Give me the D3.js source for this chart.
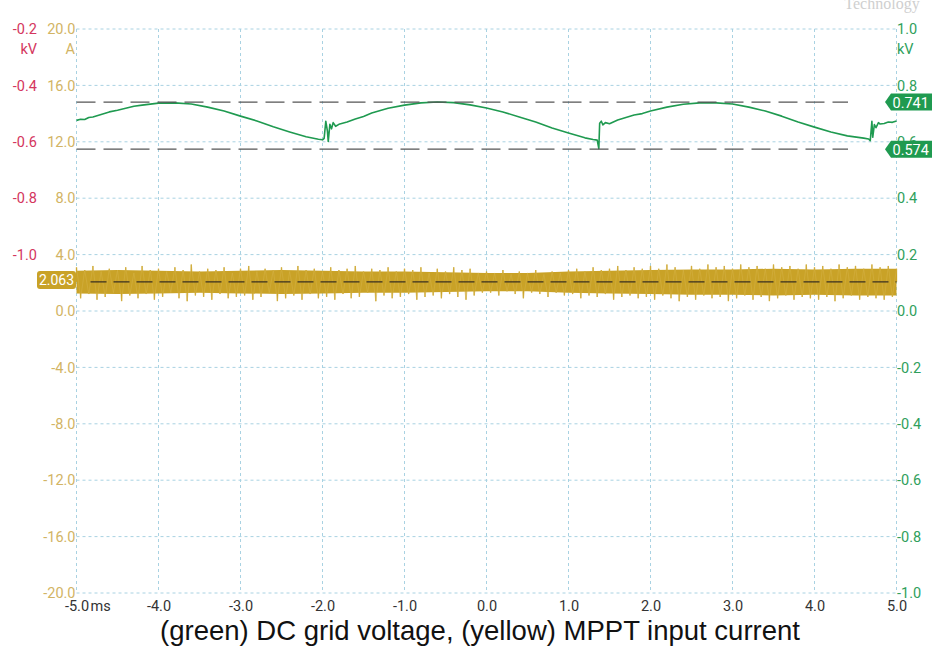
<!DOCTYPE html>
<html>
<head>
<meta charset="utf-8">
<script src="https://cdn.jsdelivr.net/npm/d3@7"></script>
<style>
  html, body { margin: 0; padding: 0; background: #fff; }
  svg { display: block; }
  text { font-family: Roboto, "Noto Sans", sans-serif; }
</style>
</head>
<body>
<svg id="chart" width="932" height="650"></svg>
<script>
'use strict';

// time axis (ms)
var timeTicks = [-5, -4, -3, -2, -1, 0, 1, 2, 3, 4, 5];
// current axis (A), left
var currentTicks = [-20, -16, -12, -8, -4, 0, 4, 8, 12, 16, 20];
// left kV labels (offset channel scale)
var leftKvTicks = [-0.2, -0.4, -0.6, -0.8, -1.0];
// right kV axis
var rightKvTicks = [-1.0, -0.8, -0.6, -0.4, -0.2, 0.0, 0.2, 0.4, 0.6, 0.8, 1.0];

// cursor values
var voltMax = 0.741, voltMin = 0.574, currentMean = 2.063;

// green trace: DC grid voltage (kV)
var greenT = [-5.0, -4.95, -4.9, -4.85, -4.8, -4.7, -4.6, -4.5, -4.4, -4.3, -4.2, -4.0, -3.8, -3.6, -3.4, -3.2, -3.0, -2.8, -2.6, -2.4, -2.2,
  -2.05, -2.0, -1.98, -1.96, -1.94, -1.93, -1.91, -1.89, -1.87, -1.84, -1.8, -1.7, -1.6, -1.5, -1.4, -1.2, -1.0,
  -0.8, -0.6, -0.4, -0.2, 0.0, 0.2, 0.4, 0.6, 0.8, 1.0, 1.2, 1.3, 1.35, 1.37, 1.38, 1.40, 1.42, 1.45,
  1.5, 1.6, 1.8, 1.9, 2.0, 2.2, 2.4, 2.6, 2.8, 3.0, 3.2, 3.4, 3.6, 3.8, 4.0, 4.2, 4.4, 4.6, 4.66, 4.68,
  4.70, 4.71, 4.73, 4.75, 4.78, 4.8, 4.85, 4.9, 4.95, 5.0];
var greenV = [0.676, 0.680, 0.679, 0.686, 0.688, 0.697, 0.706, 0.712, 0.719, 0.726, 0.730, 0.737, 0.738, 0.734, 0.723, 0.709, 0.691, 0.674, 0.653, 0.635, 0.618,
  0.609, 0.607, 0.612, 0.673, 0.638, 0.601, 0.662, 0.646, 0.668, 0.655, 0.662, 0.670, 0.681, 0.690, 0.702, 0.719, 0.730,
  0.738, 0.741, 0.739, 0.731, 0.720, 0.706, 0.688, 0.670, 0.649, 0.631, 0.614, 0.608, 0.606, 0.576, 0.666, 0.673, 0.660, 0.668,
  0.664, 0.677, 0.695, 0.700, 0.709, 0.723, 0.733, 0.738, 0.738, 0.734, 0.723, 0.709, 0.691, 0.670, 0.652, 0.635, 0.621, 0.613, 0.610, 0.604,
  0.673, 0.616, 0.661, 0.650, 0.668, 0.663, 0.665, 0.670, 0.669, 0.674];

// yellow trace: MPPT input current (A), core band every 0.5 ms
var coreT = [-5.0, -4.5, -4.0, -3.5, -3.0, -2.5, -2.0, -1.5, -1.0, -0.5, 0.0, 0.5, 1.0, 1.5, 2.0, 2.5, 3.0, 3.5, 4.0, 4.5, 5.0];
var coreHi = [2.85, 2.9, 2.85, 2.8, 2.85, 2.9, 2.85, 2.8, 2.8, 2.75, 2.7, 2.7, 2.8, 2.85, 2.9, 2.95, 2.95, 3.0, 2.95, 3.0, 3.0];
var coreLo = [1.25, 1.2, 1.25, 1.3, 1.25, 1.2, 1.25, 1.3, 1.3, 1.35, 1.4, 1.4, 1.3, 1.25, 1.2, 1.15, 1.15, 1.1, 1.15, 1.1, 1.1];

// yellow trace noise samples, every 0.05 ms from -5.0 to 5.0
var currentSamples = [
  3.1, 0.9, 2.9, 1.2, 3.2, 0.8, 2.8, 1.0, 3.0, 1.3, 2.9, 0.7, 3.1, 1.1, 2.7, 0.9, 3.2, 1.2, 2.9, 0.8,
  3.0, 1.0, 2.8, 1.3, 3.1, 0.9, 2.9, 0.7, 3.3, 1.1, 2.8, 1.0, 3.0, 0.8, 2.9, 1.2, 3.1, 0.9, 2.7, 1.0,
  3.0, 1.1, 3.2, 0.8, 2.8, 1.0, 3.0, 1.3, 2.9, 0.7, 3.1, 0.9, 2.8, 1.1, 3.2, 0.8, 2.9, 1.2, 3.0, 0.9,
  2.8, 1.0, 3.1, 0.8, 2.9, 1.2, 3.0, 0.9, 3.2, 1.0, 2.8, 1.3, 3.0, 0.7, 2.9, 1.1, 3.1, 0.9, 2.8, 1.0,
  3.0, 1.2, 2.9, 0.8, 3.1, 1.0, 2.7, 1.1, 3.0, 0.9, 2.8, 1.2, 3.1, 1.0, 2.9, 0.8, 3.0, 1.1, 2.7, 1.3,
  2.8, 1.3, 2.7, 1.1, 2.9, 1.4, 2.6, 1.2, 2.8, 0.9, 2.7, 1.3, 2.9, 1.2, 2.6, 1.0, 2.8, 1.3, 2.7, 1.1,
  2.9, 1.2, 3.0, 0.9, 2.8, 1.1, 3.1, 1.0, 2.9, 1.2, 3.0, 0.8, 3.2, 1.0, 2.9, 1.1, 3.1, 0.9, 3.0, 1.0,
  3.2, 0.8, 3.0, 1.1, 3.3, 0.9, 3.1, 0.7, 2.9, 1.0, 3.2, 0.8, 3.0, 1.1, 3.3, 0.9, 3.1, 1.0, 3.2, 0.7,
  3.0, 0.9, 3.3, 1.1, 3.1, 0.8, 3.2, 1.0, 3.0, 0.7, 3.3, 0.9, 3.1, 1.1, 3.2, 0.8, 3.0, 1.0, 3.3, 0.9,
  3.1, 0.8, 3.2, 1.0, 3.0, 0.7, 3.3, 0.9, 3.1, 1.1, 3.2, 0.8, 3.0, 1.0, 3.3, 0.9, 3.1, 0.8, 3.2, 1.0,
  3.0
];

var colors = {
  grid: '#a9d2e2',
  green: '#1f9a50',
  greenText: '#2f9f5c',
  gold: '#c9a227',
  goldText: '#d2b464',
  red: '#d4365e',
  dash: '#555555',
  axisText: '#333333'
};

var svg = d3.select('#chart');

// scales
var x = d3.scaleLinear().domain([-5, 5]).range([76.5, 896.5]);
var yA = d3.scaleLinear().domain([-20, 20]).range([593, 29]);
var yKv = d3.scaleLinear().domain([-1, 1]).range([593, 29]);
var yKvLeft = d3.scaleLinear().domain([-2.2, -0.2]).range([593, 29]);

// grid
var grid = svg.append('g').attr('class', 'grid');
grid.selectAll('line.v')
  .data(timeTicks)
  .enter().append('line')
  .attr('x1', function (d) { return x(d); })
  .attr('x2', function (d) { return x(d); })
  .attr('y1', yA(20))
  .attr('y2', yA(-20));
grid.selectAll('line.h')
  .data(currentTicks)
  .enter().append('line')
  .attr('x1', x(-5))
  .attr('x2', x(5))
  .attr('y1', function (d) { return yA(d); })
  .attr('y2', function (d) { return yA(d); });
grid.selectAll('line')
  .attr('stroke', colors.grid)
  .attr('stroke-width', 1)
  .attr('stroke-dasharray', '3,3');

// yellow current trace: solid core band plus spikes
var coreData = coreT.map(function (t, i) { return { t: t, hi: coreHi[i], lo: coreLo[i] }; });
svg.append('path')
  .datum(coreData)
  .attr('fill', colors.gold)
  .attr('d', d3.area()
    .x(function (d) { return x(d.t); })
    .y0(function (d) { return yA(d.lo); })
    .y1(function (d) { return yA(d.hi); }));

svg.append('g')
  .selectAll('line')
  .data(currentSamples)
  .enter().append('line')
  .attr('x1', function (d, i) { return x(-5 + i * 0.05); })
  .attr('x2', function (d, i) { return x(-5 + i * 0.05); })
  .attr('y1', yA(currentMean))
  .attr('y2', function (d) { return yA(d); })
  .attr('stroke', colors.gold)
  .attr('stroke-width', 1.3);

svg.append('path')
  .datum(currentSamples)
  .attr('fill', 'none')
  .attr('stroke', '#d8b850')
  .attr('stroke-opacity', 0.6)
  .attr('stroke-width', 0.7)
  .attr('d', d3.line()
    .x(function (d, i) { return x(-5 + i * 0.05); })
    .y(function (d) { return yA(d); }));

// green voltage trace
svg.append('path')
  .datum(greenT.map(function (t, i) { return [t, greenV[i]]; }))
  .attr('fill', 'none')
  .attr('stroke', colors.green)
  .attr('stroke-width', 1.6)
  .attr('stroke-linejoin', 'round')
  .attr('d', d3.line()
    .x(function (d) { return x(d[0]); })
    .y(function (d) { return yKv(d[1]); }));

// cursor lines
[voltMax, voltMin].forEach(function (v) {
  svg.append('line')
    .attr('x1', x(-5)).attr('x2', 848)
    .attr('y1', yKv(v)).attr('y2', yKv(v))
    .attr('stroke', colors.dash)
    .attr('stroke-width', 1.3)
    .attr('stroke-dasharray', '19,8');
});
svg.append('line')
  .attr('x1', x(-5) + 14).attr('x2', x(5))
  .attr('y1', yA(currentMean)).attr('y2', yA(currentMean))
  .attr('stroke', '#3a3020')
  .attr('stroke-width', 1.3)
  .attr('stroke-dasharray', '16,7');

// x axis labels
var xAxis = svg.append('g')
  .attr('transform', 'translate(0,' + yA(-20) + ')')
  .call(d3.axisBottom(x).tickValues(timeTicks).tickSize(0).tickPadding(8)
    .tickFormat(function (d) { return d.toFixed(1); }));
xAxis.select('.domain').remove();
xAxis.selectAll('text')
  .attr('fill', colors.axisText)
  .style('font-size', '14.5px');
svg.append('text')
  .attr('x', x(-5) + 14)
  .attr('y', 611)
  .attr('fill', colors.axisText)
  .style('font-size', '14.5px')
  .text('ms');

// left current axis
var aAxis = svg.append('g')
  .attr('transform', 'translate(' + (x(-5) - 1) + ',0)')
  .call(d3.axisLeft(yA).tickValues(currentTicks).tickSize(0).tickPadding(0)
    .tickFormat(function (d) { return d.toFixed(1); }));
aAxis.select('.domain').remove();
aAxis.selectAll('text')
  .attr('fill', colors.goldText)
  .style('font-size', '14.5px');

// left kV axis
var kvLeftAxis = svg.append('g')
  .attr('transform', 'translate(37,0)')
  .call(d3.axisLeft(yKvLeft).tickValues(leftKvTicks).tickSize(0).tickPadding(0)
    .tickFormat(function (d) { return d.toFixed(1); }));
kvLeftAxis.select('.domain').remove();
kvLeftAxis.selectAll('text')
  .attr('fill', colors.red)
  .style('font-size', '14.5px');

// right kV axis
var kvRightAxis = svg.append('g')
  .attr('transform', 'translate(' + (x(5) + 0.5) + ',0)')
  .call(d3.axisRight(yKv).tickValues(rightKvTicks).tickSize(0).tickPadding(0)
    .tickFormat(function (d) { return d.toFixed(1); }));
kvRightAxis.select('.domain').remove();
kvRightAxis.selectAll('text')
  .attr('fill', colors.greenText)
  .style('font-size', '14.5px');

// unit labels
svg.append('text').attr('x', 37).attr('y', 54).attr('text-anchor', 'end')
  .attr('fill', colors.red).style('font-size', '14.5px').text('kV');
svg.append('text').attr('x', 75).attr('y', 54).attr('text-anchor', 'end')
  .attr('fill', colors.goldText).style('font-size', '14.5px').text('A');
svg.append('text').attr('x', 897).attr('y', 54)
  .attr('fill', colors.greenText).style('font-size', '14.5px').text('kV');

// cursor tags (right, green)
[voltMax, voltMin].forEach(function (v) {
  var cy = yKv(v);
  svg.append('path')
    .attr('d', 'M885,' + cy + ' L891,' + (cy - 8.5) + ' L934,' + (cy - 8.5) + ' L934,' + (cy + 8.5) + ' L891,' + (cy + 8.5) + ' Z')
    .attr('fill', colors.green);
  svg.append('text')
    .attr('x', 892.5).attr('y', cy + 5.5)
    .attr('fill', '#ffffff')
    .style('font-size', '14.5px')
    .text(v.toFixed(3));
});

// cursor tag (left, gold)
var tagY = yA(currentMean) - 2;
svg.append('rect')
  .attr('x', 37).attr('y', tagY - 9)
  .attr('width', 39).attr('height', 18)
  .attr('rx', 3)
  .attr('fill', colors.gold);
svg.append('text')
  .attr('x', 56.5).attr('y', tagY + 5)
  .attr('text-anchor', 'middle')
  .attr('fill', '#ffffff')
  .style('font-size', '14px')
  .text(currentMean.toFixed(3));

// faint watermark at top right
svg.append('text')
  .attr('x', 882).attr('y', 9)
  .attr('text-anchor', 'middle')
  .attr('fill', '#cfcfcf')
  .style('font-family', '"Liberation Serif", serif')
  .style('font-size', '16px')
  .text('Technology');

// caption
svg.append('text')
  .attr('x', 480).attr('y', 640)
  .attr('text-anchor', 'middle')
  .attr('fill', '#111111')
  .style('font-family', '"Liberation Sans", Arial, sans-serif')
  .style('font-size', '27.5px')
  .text('(green) DC grid voltage, (yellow) MPPT input current');
</script>
</body>
</html>
